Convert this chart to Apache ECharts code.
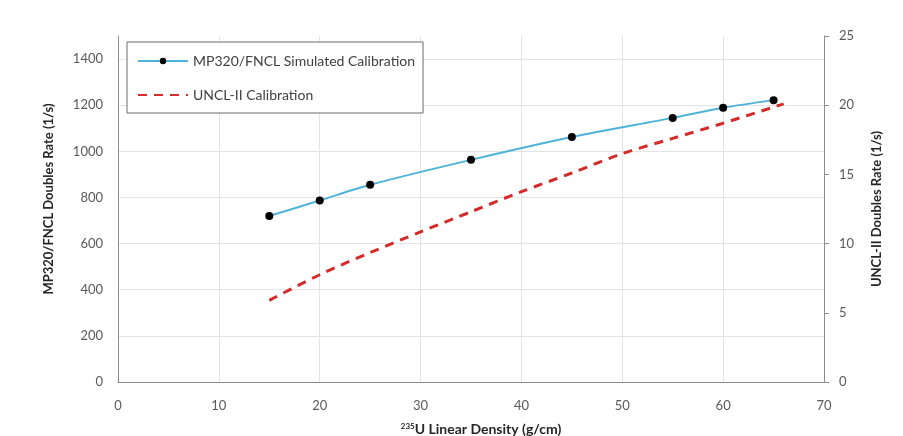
<!DOCTYPE html>
<html>
<head>
<meta charset="utf-8">
<script src="https://cdn.jsdelivr.net/npm/echarts@6/dist/echarts.min.js"></script>
<style>
html,body{margin:0;padding:0;background:#fff;}
#chart{width:903px;height:436px;}
</style>
</head>
<body>
<div id="chart"></div>
<script>
// Data
const mpX = [15, 20, 25, 35, 45, 55, 60, 65];
const mpY = [720, 787, 855, 963, 1062, 1145, 1189, 1222];
const unclX = [15, 20, 25, 30, 35, 40, 45, 50, 55, 60, 66];
const unclY = [5.9, 7.75, 9.35, 10.85, 12.3, 13.75, 15.1, 16.5, 17.6, 18.7, 20.1];
const seriesNames = ['MP320/FNCL Simulated Calibration', 'UNCL-II Calibration'];

const font = 'Lato, "Open Sans", sans-serif';
const chart = echarts.init(document.getElementById('chart'), null, {renderer: 'canvas'});
chart.setOption({
  animation: false,
  backgroundColor: '#fff',
  textStyle: {fontFamily: font},
  grid: {left: 118, right: 79, top: 36, bottom: 54, containLabel: false, outerBoundsMode: 'none'},
  legend: {
    left: 127, top: 42, orient: 'vertical',
    padding: [12, 8, 11, 10],
    itemWidth: 50, itemHeight: 8, itemGap: 20,
    borderColor: '#6b6b6b', borderWidth: 1,
    backgroundColor: '#fff',
    textStyle: {fontFamily: font, fontSize: 14, color: '#404040', width: 222},
    data: [
      {name: seriesNames[0]},
      {name: seriesNames[1], itemStyle: {opacity: 0}}
    ]
  },
  xAxis: {
    type: 'value', min: 0, max: 70, interval: 10,
    axisLine: {show: true, lineStyle: {color: '#8c8c8c', width: 1}},
    axisTick: {show: false},
    axisLabel: {color: '#595959', fontSize: 13, margin: 17, fontFamily: font},
    splitLine: {show: true, lineStyle: {color: '#e3e3e3'}},
    name: '{sup|235}{n|U Linear Density (g/cm)}',
    nameLocation: 'middle', nameGap: 40,
    nameTextStyle: {
      padding: [0, 0, 0, 20],
      rich: {
        sup: {fontSize: 8, fontWeight: 'bold', color: '#262626', verticalAlign: 'top', padding: [0,0,6,0], fontFamily: font},
        n: {fontSize: 14, fontWeight: 'bold', color: '#262626', fontFamily: font}
      }
    }
  },
  yAxis: [{
    type: 'value', min: 0, max: 1500, interval: 200,
    axisLine: {show: true, lineStyle: {color: '#8c8c8c', width: 1}},
    axisTick: {show: false},
    axisLabel: {color: '#595959', fontSize: 13, margin: 15, showMaxLabel: false, fontFamily: font, formatter: v => String(v)},
    splitLine: {show: true, showMaxLine: false, lineStyle: {color: '#e3e3e3'}},
    name: 'MP320/FNCL Doubles Rate (1/s)',
    nameLocation: 'middle', nameGap: 63, nameRotate: 90,
    nameTextStyle: {fontSize: 13, fontWeight: 'bold', color: '#262626', fontFamily: font, padding: [0, 0, 0, 20]}
  }, {
    type: 'value', min: 0, max: 25, interval: 5, position: 'right',
    axisLine: {show: true, lineStyle: {color: '#8c8c8c', width: 1}},
    axisTick: {show: true, inside: false, length: 5, lineStyle: {color: '#8c8c8c'}},
    axisLabel: {color: '#595959', fontSize: 13, margin: 15, fontFamily: font},
    splitLine: {show: false},
    name: 'UNCL-II Doubles Rate (1/s)',
    nameLocation: 'middle', nameGap: 46, nameRotate: 90,
    nameTextStyle: {fontSize: 13, fontWeight: 'bold', color: '#262626', fontFamily: font, padding: [0, 0, 0, 0]}
  }],
  series: [{
    name: seriesNames[0], type: 'line', yAxisIndex: 0, smooth: 0.3,
    data: mpX.map((x, i) => [x, mpY[i]]),
    symbol: 'circle', symbolSize: 8,
    itemStyle: {color: '#000'},
    lineStyle: {color: '#4fb3d9', width: 2},
    z: 3
  }, {
    name: seriesNames[1], type: 'line', yAxisIndex: 1, smooth: 0.3,
    data: unclX.map((x, i) => [x, unclY[i]]),
    showSymbol: false, symbol: 'none',
    itemStyle: {color: '#d42a2a'},
    lineStyle: {color: '#d42a2a', width: 3, type: [9, 7]},
    z: 2
  }]
});
</script>
</body>
</html>
